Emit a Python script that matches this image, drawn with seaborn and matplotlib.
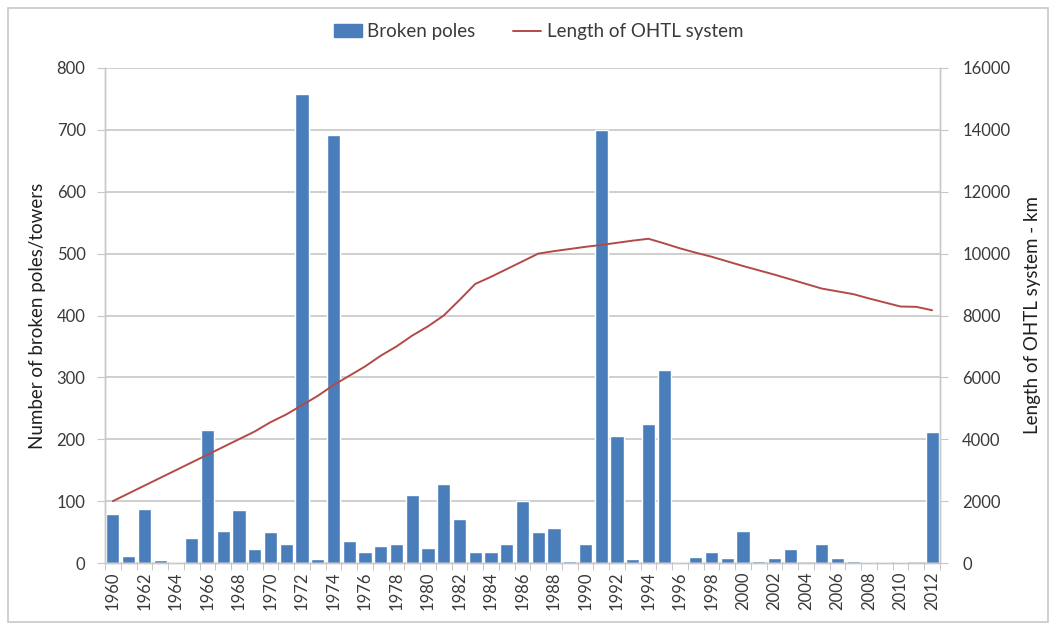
import numpy as np
import pandas as pd
import seaborn as sns
import matplotlib.pyplot as plt
from matplotlib.patches import Rectangle
from matplotlib.lines import Line2D

years = list(range(1960, 2013))

broken_poles = [80, 12, 88, 5, 2, 40, 215, 52, 85, 22,
                50, 30, 758, 7, 692, 35, 18, 27, 30, 110,
                25, 127, 71, 18, 18, 30, 101, 50, 56, 3,
                30, 700, 206, 7, 225, 312, 1, 10, 18, 8,
                52, 4, 8, 23, 0, 30, 8, 4, 1, 1,
                1, 0, 212]

ohtl_length = [2000, 2250, 2500, 2750, 3000, 3250, 3500, 3750, 4000, 4250,
               4550, 4800, 5100, 5400, 5750, 6050, 6350, 6700, 7000, 7350,
               7650, 8000, 8500, 9020, 9250, 9500, 9750, 10000, 10080, 10150,
               10220, 10280, 10350, 10420, 10480, 10330, 10170, 10030, 9900, 9750,
               9600, 9460, 9320, 9170, 9020, 8870, 8780, 8690, 8550, 8420,
               8290, 8280, 8170]

df = pd.DataFrame({'year': years, 'poles': broken_poles, 'length': ohtl_length})
df['pos'] = np.arange(len(df))

sns.set_style('white')
plt.rcParams['font.family'] = ['Lato', 'DejaVu Sans']

bar_color = '#4a7ebb'
line_color = '#b34a48'
grid_color = '#cccccc'
text_color = '#3a3a3a'

fig = plt.figure(figsize=(10.56, 6.28), dpi=100)
ax = fig.add_axes([105 / 1056, 1 - 563 / 628, 835 / 1056, 495 / 628])

sns.barplot(data=df, x='pos', y='poles', color=bar_color, width=0.84,
            saturation=1, ax=ax, order=list(df['pos']), zorder=2)
ax.set_xlim(-0.5, len(df) - 0.5)
ax.set_ylim(0, 800)
ax.set_yticks(range(0, 801, 100))
ax.yaxis.grid(True, color=grid_color, lw=1.3, zorder=0)
ax.set_axisbelow(True)

ax.set_xticks(df['pos'][::2])
ax.set_xticklabels([str(y) for y in years[::2]], rotation=90)
ax.set_xticks(np.arange(-0.5, len(df), 1), minor=True)
ax.tick_params(axis='x', which='major', length=0, pad=6, labelsize=12, labelcolor=text_color)
ax.tick_params(axis='x', which='minor', length=5, color='#bbbbbb', direction='out', bottom=True)
ax.tick_params(axis='y', length=6, color='#c8c8c8', labelsize=12, labelcolor=text_color,
               left=True, pad=8)
ax.set_xlabel('')
ax.set_ylabel('Number of broken poles/towers', fontsize=13.5, color='#202020', labelpad=8)

ax2 = ax.twinx()
sns.lineplot(data=df, x='pos', y='length', color=line_color, lw=1.4, ax=ax2, zorder=3)
ax2.set_ylim(0, 16000)
ax2.set_yticks(range(0, 16001, 2000))
ax2.tick_params(axis='y', length=6, color='#c8c8c8', labelsize=12, labelcolor=text_color,
                right=True, pad=10)
ax2.set_ylabel('Length of OHTL system - km', fontsize=13.5, color='#202020', labelpad=10)
ax2.set_xlim(-0.5, len(df) - 0.5)

for a in (ax, ax2):
    a.spines['top'].set_visible(False)
    for s in ('left', 'right', 'bottom'):
        a.spines[s].set_color('#c8c8c8')
        a.spines[s].set_linewidth(1.0)

handles = [Rectangle((0, 0), 1, 1, color=bar_color),
           Line2D([0], [0], color=line_color, lw=1.4)]
fig.legend(handles, ['Broken poles', 'Length of OHTL system'], loc='upper center',
           bbox_to_anchor=(0.51, 0.99), ncol=2, frameon=False, fontsize=13.5,
           handlelength=1.5, handletextpad=0.3, columnspacing=2.0,
           labelcolor=text_color)

fig.patches.append(Rectangle((8 / 1056, 6 / 628), 1040 / 1056, 614 / 628,
                             transform=fig.transFigure, fill=False,
                             edgecolor='#c8c8c8', lw=1.2))

fig.savefig('out.png', dpi=100)
